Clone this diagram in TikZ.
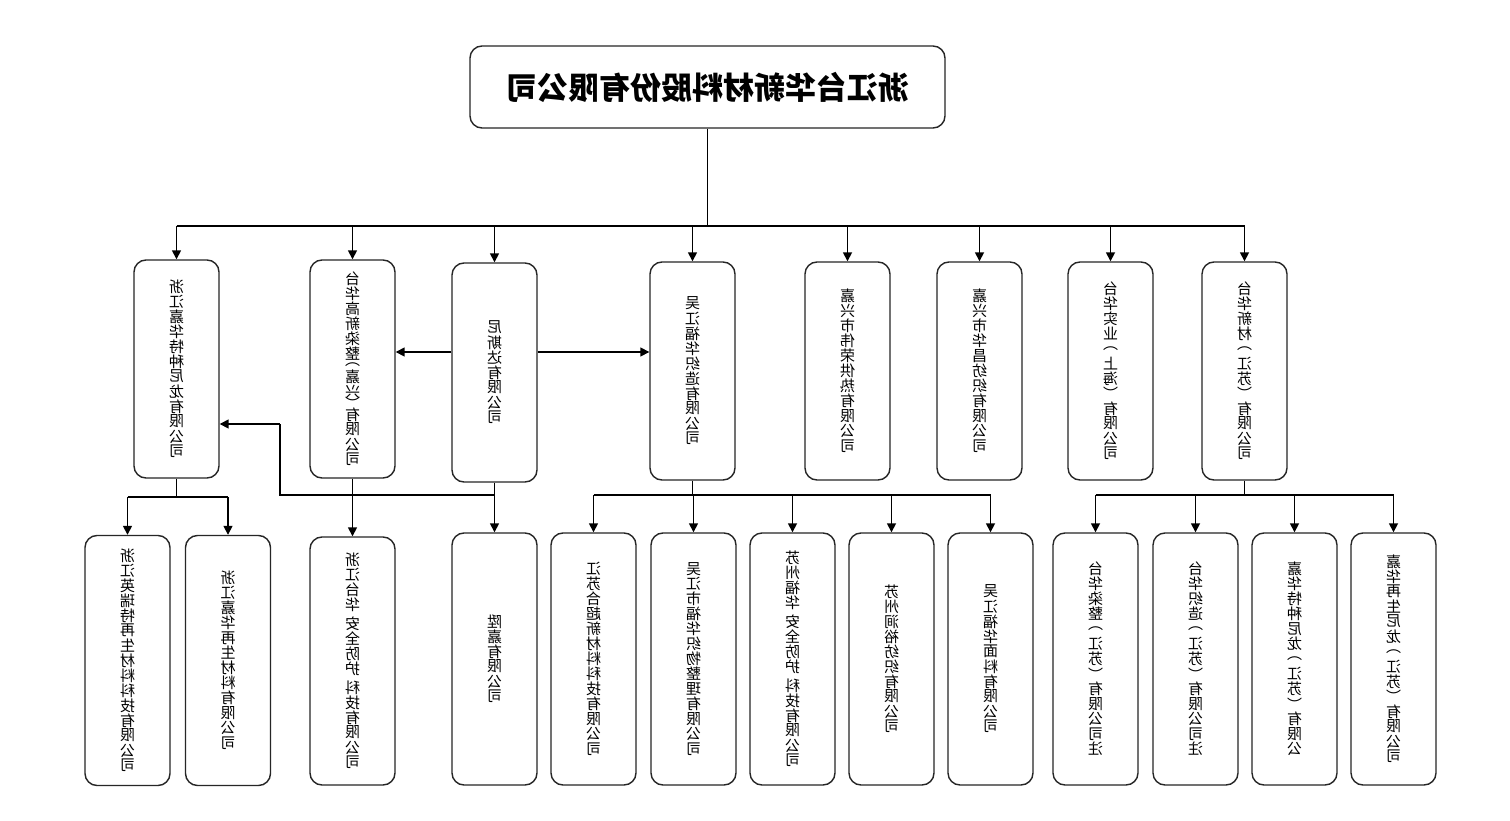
\documentclass[tikz,border=0pt]{standalone}
\usepackage{fontspec}
\usepackage{graphicx}
\usetikzlibrary{arrows.meta}
\newfontfamily\cjk{Noto Sans CJK SC}
\makeatletter
\def\vsl{3}\def\vsr{4}\def\vgp{5}
\newcommand\vt[1]{\reflectbox{\fontsize{15}{15}\selectfont\vbox{\offinterlineskip\@tfor\vt@c:=#1\do{\vt@one}}}}
\def\vt@big#1{\hbox to 16pt{\hss\vbox to 15pt{\vss\hbox{#1}\vss}\hss}}
\def\vt@small#1{\hbox to 16pt{\hss\vbox to 8pt{\vss\hbox{#1}\vss}\hss}}
\def\vt@one{%
 \expandafter\ifx\vt@c\vsl \vt@small{︵}%
 \else\expandafter\ifx\vt@c\vsr \vt@small{︶}%
 \else\expandafter\ifx\vt@c\vgp \kern4pt
 \else \vt@big{\vt@c}\fi\fi\fi}
\makeatother
\tikzset{
  box/.style={draw=black!85, line width=1.4pt, rounded corners=12pt, minimum width=85pt, inner sep=0pt, font=\cjk, fill=white},
  conn/.style={draw=black, line width=1.6pt},
  arr/.style={conn, -{Triangle[length=9pt,width=9pt]}}
}
\begin{document}
\begin{tikzpicture}[x=1pt,y=-1pt]
\useasboundingbox[fill=white] (0,0) rectangle (1510,821);
% top
\node[box, minimum width=475pt, minimum height=82pt, font=\cjk\bfseries\fontsize{31}{31}\selectfont] (top) at (707.5,87) {\reflectbox{浙江台华新材料股份有限公司}};
% row 1
\node[box, minimum height=218pt] (a1) at (176.5,369) {\vt{浙江嘉华特种尼龙有限公司}};
\node[box, minimum height=218pt] (a2) at (352.5,369) {\vt{台华高新染整\vsl 嘉兴\vsr 有限公司}};
\node[box, minimum height=219pt] (a3) at (494.5,372.5) {\vt{尼斯达有限公司}};
\node[box, minimum height=218pt] (a4) at (692.5,371) {\vt{吴江福华织造有限公司}};
\node[box, minimum height=218pt] (a5) at (847.5,371) {\vt{嘉兴市伟荣供热有限公司}};
\node[box, minimum height=218pt] (a6) at (979.5,371) {\vt{嘉兴市华昌纺织有限公司}};
\node[box, minimum height=218pt] (a7) at (1110.5,371) {\vt{台华实业︵上海︶有限公司}};
\node[box, minimum height=218pt] (a8) at (1244.5,371) {\vt{台华新材︵江苏︶有限公司}};
% row 2
\node[box, minimum height=250pt] (b1) at (127.5,660.5) {\vt{浙江英瑞特再生材料科技有限公司}};
\node[box, minimum height=250pt] (b2) at (228,660.5) {\vt{浙江嘉华再生材料有限公司}};
\node[box, minimum height=248pt] (b3) at (352.5,661) {\vt{浙江台华\vgp 安全防护\vgp 科技有限公司}};
\node[box, minimum height=252pt] (b4) at (494.5,659) {\vt{陞嘉有限公司}};
\node[box, minimum height=252pt] (b5) at (593.5,659) {\vt{江苏合超新材料科技有限公司}};
\node[box, minimum height=252pt] (b6) at (693.5,659) {\vt{吴江市福华织物整理有限公司}};
\node[box, minimum height=252pt] (b7) at (792.5,659) {\vt{苏州福华\vgp 安全防护\vgp 科技有限公司}};
\node[box, minimum height=252pt] (b8) at (891.5,659) {\vt{苏州涧裕纺织有限公司}};
\node[box, minimum height=252pt] (b9) at (990.5,659) {\vt{吴江福华面料有限公司}};
\node[box, minimum height=252pt] (b10) at (1095.5,659) {\vt{台华染整︵江苏︶有限公司注}};
\node[box, minimum height=252pt] (b11) at (1195.5,659) {\vt{台华织造︵江苏︶有限公司注}};
\node[box, minimum height=252pt] (b12) at (1294.5,659) {\vt{嘉华特种尼龙︵江苏︶有限公}};
\node[box, minimum height=252pt] (b13) at (1393.5,659) {\vt{嘉华再生尼龙︵江苏︶有限公司}};
% bus from top
\coordinate (bus) at (707.5,226);
\draw[conn] (top.south) -- (bus);
\draw[conn] (a1.north |- bus) -- (a8.north |- bus);
\foreach \n in {a1,a2,a3,a4,a5,a6,a7,a8}{\draw[arr] (\n.north |- bus) -- (\n.north);}
% Nisida arrows
\coordinate (ny) at (0,352);
\draw[arr] (a3.west |- ny) -- (a2.east |- ny);
\draw[arr] (a3.east |- ny) -- (a4.west |- ny);
% Nisida down
\coordinate (nb) at (494.5,495);
\coordinate (nk) at (280,495);
\coordinate (nu) at (280,424);
\draw[arr] (a3.south) -- (b4.north);
\draw[conn] (nb) -- (nk) -- (nu);
\draw[arr] (nu) -- (a1.east |- nu);
% a1 children
\coordinate (s1) at (176.5,497);
\draw[conn] (a1.south) -- (s1);
\draw[conn] (b1.north |- s1) -- (b2.north |- s1);
\draw[arr] (b1.north |- s1) -- (b1.north);
\draw[arr] (b2.north |- s1) -- (b2.north);
% a2 child
\draw[arr] (a2.south) -- (b3.north);
% a4 children
\coordinate (s4) at (692.5,495);
\draw[conn] (a4.south) -- (s4);
\draw[conn] (b5.north |- s4) -- (b9.north |- s4);
\foreach \n in {b5,b6,b7,b8,b9}{\draw[arr] (\n.north |- s4) -- (\n.north);}
% a8 children
\coordinate (s8) at (1244.5,495);
\draw[conn] (a8.south) -- (s8);
\draw[conn] (b10.north |- s8) -- (b13.north |- s8);
\foreach \n in {b10,b11,b12,b13}{\draw[arr] (\n.north |- s8) -- (\n.north);}
\end{tikzpicture}
\end{document}
